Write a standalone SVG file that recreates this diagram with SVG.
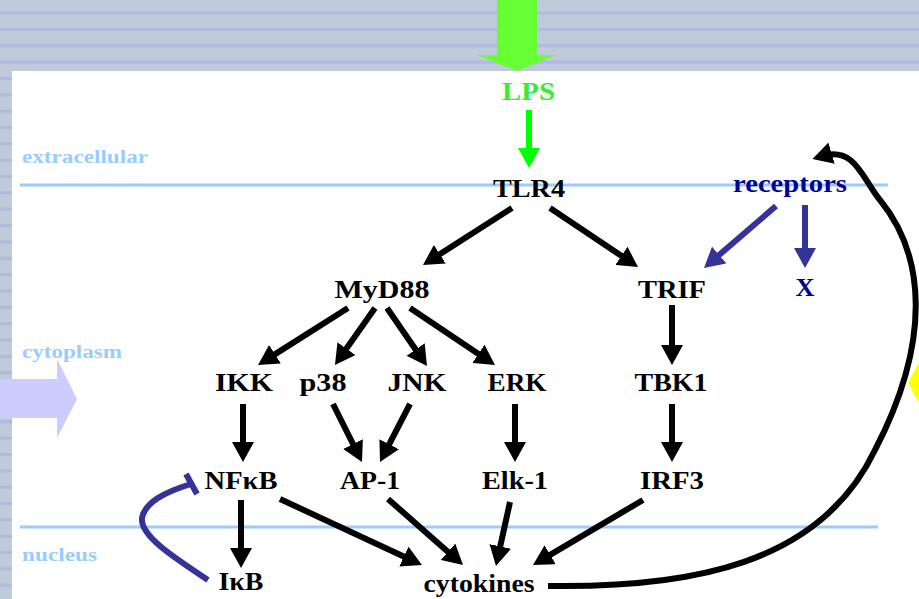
<svg xmlns="http://www.w3.org/2000/svg" width="919" height="599" viewBox="0 0 919 599">
<defs>
<pattern id="stripes" patternUnits="userSpaceOnUse" width="919" height="16.35" y="0">
<rect width="919" height="16.35" fill="#bfcadb"/>
<rect y="11.5" width="919" height="3" fill="#afbadd"/>
</pattern>
<marker id="ah" viewBox="0 0 20 22" refX="10" refY="11" markerWidth="20" markerHeight="22" markerUnits="userSpaceOnUse" orient="auto">
<path d="M0,0 L20,11 L0,22 z" fill="#000"/>
</marker>
<marker id="ahb" viewBox="0 0 20 22" refX="10" refY="11" markerWidth="20" markerHeight="22" markerUnits="userSpaceOnUse" orient="auto">
<path d="M0,0 L20,11 L0,22 z" fill="#333399"/>
</marker>
<marker id="ahg" viewBox="0 0 20 22" refX="10" refY="11" markerWidth="20" markerHeight="22" markerUnits="userSpaceOnUse" orient="auto">
<path d="M0,0 L20,11 L0,22 z" fill="#00ff00"/>
</marker>
</defs>
<style>
.n{font-family:"Liberation Serif","Times New Roman",serif;font-weight:bold;font-size:25px;fill:#000;text-anchor:middle}
.b{fill:#000099}
.g{fill:#33ee33}
.r{font-family:"Liberation Serif","Times New Roman",serif;font-weight:bold;font-size:18px;fill:#99ccff}
.k{stroke:#000;stroke-width:6;fill:none;marker-end:url(#ah)}
.bl{stroke:#333399;stroke-width:6;fill:none;marker-end:url(#ahb)}
.mem{stroke:#99ccff;stroke-width:3}
</style>
<rect width="919" height="599" fill="url(#stripes)"/>
<rect x="12" y="71" width="907" height="528" fill="#fff"/>
<polygon points="0,379 57,379 57,359 77,399 57,438 57,418 0,418" fill="#ccccff"/>
<polygon points="919,362 908,383 919,403" fill="#ffff00"/>
<line class="mem" x1="20" y1="185" x2="888" y2="185"/>
<line class="mem" x1="20" y1="527" x2="878" y2="527"/>
<text class="r" x="22" y="163" textLength="126" lengthAdjust="spacingAndGlyphs">extracellular</text>
<text class="r" x="22" y="358" textLength="100" lengthAdjust="spacingAndGlyphs">cytoplasm</text>
<text class="r" x="22" y="561" textLength="75" lengthAdjust="spacingAndGlyphs">nucleus</text>
<polygon points="497,0 537,0 537,55 556,55 517,71 477,55 497,55" fill="#66ff33"/>
<g id="connectors">
<line x1="529" y1="110" x2="529" y2="158" stroke="#00ff00" stroke-width="6" marker-end="url(#ahg)"/>
<line class="k" x1="512" y1="208" x2="431.4" y2="259.6"/>
<line class="k" x1="550" y1="208" x2="629.7" y2="261.4"/>
<line class="bl" x1="776" y1="206" x2="711.6" y2="261.5"/>
<line class="bl" x1="805" y1="205" x2="805" y2="258"/>
<line class="k" x1="348" y1="308" x2="266.5" y2="359.6"/>
<line class="k" x1="375" y1="308" x2="340.7" y2="356.8"/>
<line class="k" x1="387" y1="308" x2="421.3" y2="357.8"/>
<line class="k" x1="410" y1="308" x2="486.7" y2="359.4"/>
<line class="k" x1="672" y1="305" x2="672" y2="355"/>
<line class="k" x1="243" y1="404" x2="243" y2="452"/>
<line class="k" x1="333" y1="404" x2="357.5" y2="453"/>
<line class="k" x1="410" y1="404" x2="384.6" y2="453.1"/>
<line class="k" x1="515" y1="404" x2="515" y2="452"/>
<line class="k" x1="672" y1="404" x2="672" y2="452"/>
<line class="k" x1="241" y1="500" x2="241" y2="558"/>
<line class="k" x1="280" y1="499" x2="412.9" y2="560.8"/>
<line class="k" x1="388" y1="499" x2="455.5" y2="558.4"/>
<line class="k" x1="510" y1="502" x2="498.1" y2="556.2"/>
<line class="k" x1="643" y1="500" x2="541.6" y2="559.9"/>
<path d="M208,580 C170,555 140,535 142,518 C145,502 165,492 191,484" stroke="#333399" stroke-width="6" fill="none"/>
<line x1="186" y1="474" x2="197" y2="494" stroke="#333399" stroke-width="6"/>
<path class="k" stroke-width="5" d="M548,586 C690,588 820,565 875,450 C932,340 925,255 880,200 C862,178 855,146 822,156"/>
</g>
<g id="LPS"><text class="n g" x="528.5" y="100" textLength="53" lengthAdjust="spacingAndGlyphs">LPS</text></g>
<g id="TLR4"><text class="n" x="529" y="197" textLength="72" lengthAdjust="spacingAndGlyphs">TLR4</text></g>
<g id="receptors"><text class="n b" x="790" y="192" textLength="114" lengthAdjust="spacingAndGlyphs">receptors</text></g>
<g id="MyD88"><text class="n" x="382" y="298" textLength="95" lengthAdjust="spacingAndGlyphs">MyD88</text></g>
<g id="TRIF"><text class="n" x="672" y="298" textLength="68" lengthAdjust="spacingAndGlyphs">TRIF</text></g>
<g id="X"><text class="n b" x="805" y="296" textLength="19" lengthAdjust="spacingAndGlyphs">X</text></g>
<g id="IKK"><text class="n" x="244" y="391" textLength="58" lengthAdjust="spacingAndGlyphs">IKK</text></g>
<g id="p38"><text class="n" x="323" y="391" textLength="47" lengthAdjust="spacingAndGlyphs">p38</text></g>
<g id="JNK"><text class="n" x="417" y="391" textLength="59" lengthAdjust="spacingAndGlyphs">JNK</text></g>
<g id="ERK"><text class="n" x="517" y="391" textLength="59" lengthAdjust="spacingAndGlyphs">ERK</text></g>
<g id="TBK1"><text class="n" x="671" y="391" textLength="73" lengthAdjust="spacingAndGlyphs">TBK1</text></g>
<g id="NFkB"><text class="n" x="241" y="489" textLength="73" lengthAdjust="spacingAndGlyphs">NFκB</text></g>
<g id="AP-1"><text class="n" x="370" y="489" textLength="60" lengthAdjust="spacingAndGlyphs">AP-1</text></g>
<g id="Elk-1"><text class="n" x="515" y="489" textLength="66" lengthAdjust="spacingAndGlyphs">Elk-1</text></g>
<g id="IRF3"><text class="n" x="672" y="489" textLength="64" lengthAdjust="spacingAndGlyphs">IRF3</text></g>
<g id="IkB"><text class="n" x="241" y="590" textLength="45" lengthAdjust="spacingAndGlyphs">IκB</text></g>
<g id="cytokines"><text class="n" x="479" y="592" textLength="111" lengthAdjust="spacingAndGlyphs">cytokines</text></g>
</svg>
